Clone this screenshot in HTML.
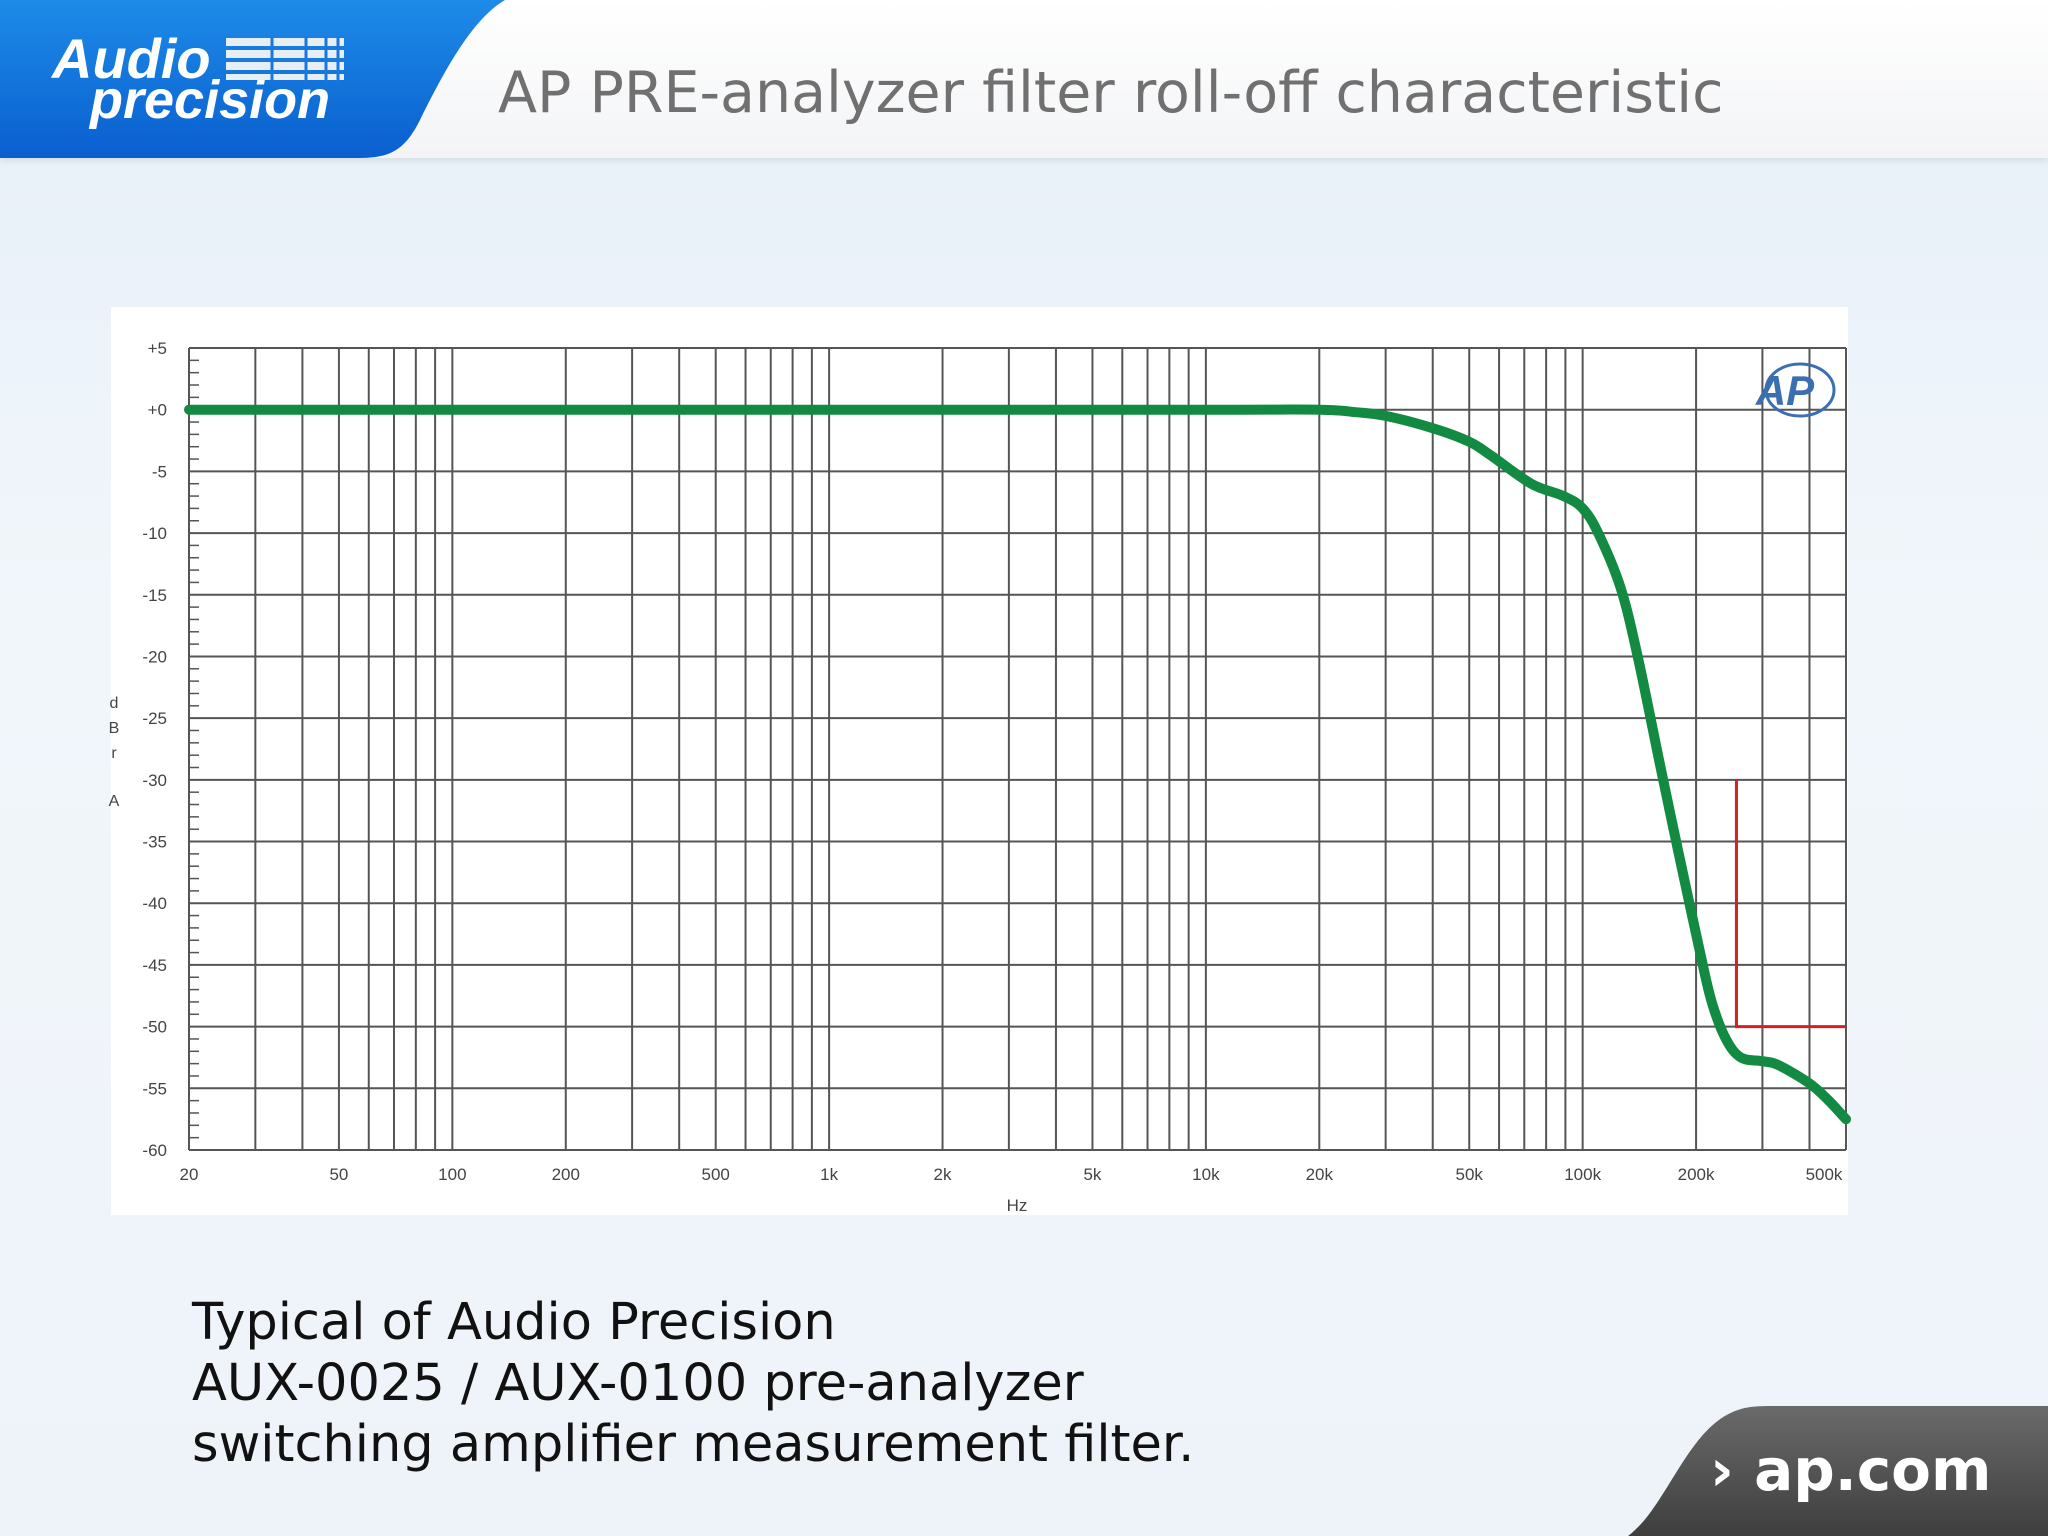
<!DOCTYPE html>
<html><head><meta charset="utf-8">
<style>
html,body{margin:0;padding:0;}
body{width:2048px;height:1536px;position:relative;overflow:hidden;font-family:"Liberation Sans","DejaVu Sans",sans-serif;background:linear-gradient(180deg,#e6eff8 0%,#f1f6fb 40%,#eef3f9 100%);}
#header{position:absolute;left:0;top:0;width:2048px;height:158px;background:linear-gradient(180deg,#ffffff,#f3f4f6);box-shadow:0 3px 6px rgba(0,0,0,0.08);}
#title{position:absolute;left:498px;top:60px;font-size:57px;color:#707070;white-space:nowrap;font-family:"DejaVu Sans",sans-serif;}
#panel{position:absolute;left:111px;top:307px;width:1737px;height:908px;background:#fff;}
#caption{position:absolute;left:192px;top:1292px;font-size:51px;line-height:61px;color:#111;font-family:"DejaVu Sans",sans-serif;}
</style></head><body>
<div id="header">
<svg width="520" height="160" style="position:absolute;left:0;top:0">
<defs><linearGradient id="bg" x1="0" y1="0" x2="0" y2="1"><stop offset="0" stop-color="#1d8be8"/><stop offset="1" stop-color="#0a5fcf"/></linearGradient></defs>
<path d="M0 0 H505 C470 20 440 80 420 120 C405 150 390 158 360 158 H0 Z" fill="url(#bg)"/>
<text x="52" y="78" font-size="56" font-style="italic" font-weight="bold" fill="#fff" font-family="Liberation Sans, sans-serif">Audio</text>
<text x="90" y="118" font-size="54" font-style="italic" font-weight="bold" fill="#fff" font-family="Liberation Sans, sans-serif">precision</text>
<g fill="#e8eef6"><rect x="226" y="38" width="118" height="8"/><rect x="226" y="50" width="118" height="8"/><rect x="226" y="62" width="118" height="8"/><rect x="226" y="74" width="118" height="6"/></g>
<g stroke="#1a78dd" stroke-width="3"><line x1="272" y1="36" x2="272" y2="82"/><line x1="306" y1="36" x2="306" y2="82"/><line x1="326" y1="36" x2="326" y2="82"/><line x1="338" y1="36" x2="338" y2="82"/></g>
</svg>
<div id="title">AP PRE-analyzer filter roll-off characteristic</div>
</div>
<div id="panel"></div>
<svg id="chart" width="2048" height="1536" style="position:absolute;left:0;top:0"></svg>
<div id="caption">Typical of Audio Precision<br>AUX-0025 / AUX-0100 pre-analyzer<br>switching amplifier measurement filter.</div>
<svg width="420" height="130" style="position:absolute;left:1628px;top:1406px">
<defs><linearGradient id="gb" x1="0" y1="0" x2="0" y2="1"><stop offset="0" stop-color="#6a6a6a"/><stop offset="1" stop-color="#3e3e3e"/></linearGradient></defs>
<path d="M0 130 C40 100 60 20 110 4 Q120 0 140 0 H420 V130 Z" fill="url(#gb)"/>
<text x="82" y="84" font-size="58" font-weight="bold" fill="#fff" font-family="DejaVu Sans, sans-serif">› ap.com</text>
</svg>
<script>
const freqs=[20,1000,10000,20000,25000,30000,40000,50000,57000,73000,89000,100000,110000,126000,140000,161000,180000,205000,220000,240000,263000,300000,330000,400000,450000,500000];
const gains=[0,0,0,0,-0.2,-0.5,-1.5,-2.6,-3.7,-6,-7,-8,-10,-14.4,-20,-29,-36,-44,-48,-51,-52.5,-52.8,-53.1,-54.6,-56,-57.5];
const limitFreqs=[256000,256000,500000];
const limitGains=[-30,-50,-50];
const yTicks=[5,0,-5,-10,-15,-20,-25,-30,-35,-40,-45,-50,-55,-60];
const yTickLabels=["+5","+0","-5","-10","-15","-20","-25","-30","-35","-40","-45","-50","-55","-60"];
const xTicks=[20,50,100,200,500,1000,2000,5000,10000,20000,50000,100000,200000,500000];
const xTickLabels=["20","50","100","200","500","1k","2k","5k","10k","20k","50k","100k","200k","500k"];
const L=189,R=1846,T=348,B=1150,fMin=20,fMax=500000,dMax=5,dMin=-60;
const xs=f=>L+(Math.log10(f)-Math.log10(fMin))/(Math.log10(fMax)-Math.log10(fMin))*(R-L);
const ys=d=>T+(dMax-d)/(dMax-dMin)*(B-T);
const svg=document.getElementById('chart');const NS='http://www.w3.org/2000/svg';
function mk(t,a,p){const e=document.createElementNS(NS,t);for(const k in a)e.setAttribute(k,a[k]);(p||svg).appendChild(e);return e;}
const grid=mk('g',{stroke:'#555',"stroke-width":2});


for(let dec=10;dec<=100000;dec*=10){for(let m=1;m<=9;m++){const f=dec*m;if(f<fMin||f>fMax)continue;mk('line',{x1:xs(f),x2:xs(f),y1:T,y2:B},grid);}}
for(const d of yTicks){mk('line',{x1:L,x2:R,y1:ys(d),y2:ys(d)},grid);}
for(let d=dMax;d>=dMin;d--){if(d%5)mk('line',{x1:L,x2:L+10,y1:ys(d),y2:ys(d),"stroke-width":1.5},grid);}
yTicks.forEach((d,i)=>{const t=mk('text',{x:L-22,y:ys(d)+6,"text-anchor":"end","font-size":17,fill:'#444'});t.textContent=yTickLabels[i];

});
xTicks.forEach((f,i)=>{let x=xs(f);if(i===xTicks.length-1)x-=22;const t=mk('text',{x:x,y:1180,"text-anchor":"middle","font-size":17,fill:'#444'});t.textContent=xTickLabels[i];

});
const hz=mk('text',{x:1017,y:1211,"text-anchor":"middle","font-size":17,fill:'#444'});hz.textContent='Hz';


const yt=mk('g',{"font-size":16,fill:'#444',"text-anchor":"middle"});


[['d',708],['B',733],['r',758],['A',806]].forEach(([c,y])=>{const t=mk('text',{x:114,y:y},yt);t.textContent=c;});
const lim=mk('polyline',{points:limitFreqs.map((f,i)=>xs(f)+','+ys(limitGains[i])).join(' '),fill:'none',stroke:'#d42020',"stroke-width":3});


const P=freqs.map((f,i)=>[xs(f),ys(gains[i])]);
let dpath='M'+P[0][0].toFixed(1)+' '+P[0][1].toFixed(1);
for(let i=0;i<P.length-1;i++){const p0=P[Math.max(0,i-1)],p1=P[i],p2=P[i+1],p3=P[Math.min(P.length-1,i+2)];
const c1=[p1[0]+(p2[0]-p0[0])/6,p1[1]+(p2[1]-p0[1])/6],c2=[p2[0]-(p3[0]-p1[0])/6,p2[1]-(p3[1]-p1[1])/6];
dpath+=' C'+c1[0].toFixed(1)+' '+c1[1].toFixed(1)+' '+c2[0].toFixed(1)+' '+c2[1].toFixed(1)+' '+p2[0].toFixed(1)+' '+p2[1].toFixed(1);}
const cur=mk('path',{d:dpath,fill:'none',stroke:'#138a42',"stroke-width":10,"stroke-linejoin":"round","stroke-linecap":"round"});


const ap=mk('text',{x:1785,y:405,"text-anchor":"middle","font-size":42,"font-style":"italic","font-weight":"bold",fill:'#3a6fb0'});ap.textContent='AP';


mk('ellipse',{cx:1800,cy:390,rx:34,ry:26,fill:'none',stroke:'#3a6fb0',"stroke-width":3});
</script>
</body></html>
